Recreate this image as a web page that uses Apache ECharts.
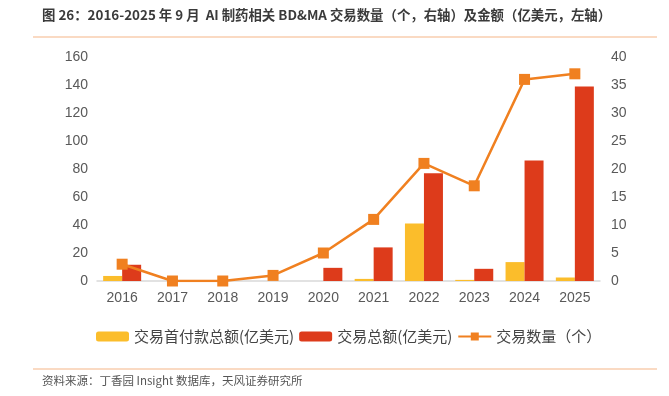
<!DOCTYPE html>
<html lang="zh">
  <head>
    <meta charset="UTF-8" />
    <title>AI 制药 BD&MA 交易</title>
    <script src="https://cdn.jsdelivr.net/npm/echarts@6/dist/echarts.min.js"></script>
    <style>
      body { margin: 0; background: #fff; }
    </style>
  </head>
  <body>
    <div id="main" style="width: 669px; height: 396px"></div>
    <script type="text/javascript">
      // data
      const years = ["2016", "2017", "2018", "2019", "2020", "2021", "2022", "2023", "2024", "2025"];
      const upfront = [3.6, 0, 0, 0, 0, 1.5, 41, 0.8, 13.5, 2.5];   // 亿美元, left axis
      const total = [11.6, 0, 0, 0, 9.4, 24, 77, 8.7, 86, 139];    // 亿美元, left axis
      const dealCount = [3, 0, 0, 1, 5, 11, 21, 17, 36, 37];        // 个, right axis

      const font = "'Noto Sans CJK SC', 'Noto Sans', sans-serif";
      const numFont = "'Liberation Sans', Arial, sans-serif";
      const labelColor = "#595959";

      let myChart = echarts.init(document.getElementById("main"));

      let options = {
        animation: false,
        textStyle: { fontFamily: font },
        graphic: [
          {
            type: "text",
            left: 42,
            top: 8,
            style: {
              text: "图 26：2016-2025 年 9 月  AI 制药相关 BD&MA 交易数量（个，右轴）及金额（亿美元，左轴）",
              font: "bold 13.4px " + font,
              fill: "#3a3a3a",
            },
          },
          {
            type: "line",
            shape: { x1: 33, y1: 37, x2: 657, y2: 37 },
            style: { stroke: "#f5b587", lineWidth: 1.2 },
          },
          {
            type: "line",
            shape: { x1: 33, y1: 369, x2: 657, y2: 369 },
            style: { stroke: "#f5b587", lineWidth: 1.2 },
          },
          {
            type: "text",
            left: 42,
            top: 375,
            style: {
              text: "资料来源：丁香园 Insight 数据库，天风证券研究所",
              font: "11.5px " + font,
              fill: "#555",
            },
          },
        ],
        grid: { left: 97, right: 69, top: 57, bottom: 115 },
        legend: {
          top: 324,
          left: 91,
          itemWidth: 33,
          itemHeight: 10,
          itemGap: 5,
          textStyle: { fontSize: 15, color: "#444", fontFamily: font },
          data: [
            { name: "交易首付款总额(亿美元)" },
            { name: "交易总额(亿美元)" },
            { name: "交易数量（个）" },
          ],
        },
        xAxis: {
          type: "category",
          data: years,
          axisTick: { show: false },
          axisLine: { lineStyle: { color: "#d9d9d9", width: 1.5 } },
          axisLabel: { color: labelColor, fontSize: 14, margin: 10, fontFamily: numFont },
        },
        yAxis: [
          {
            type: "value",
            min: 0,
            max: 160,
            interval: 20,
            splitLine: { show: false },
            axisLabel: { color: labelColor, fontSize: 14, margin: 9, fontFamily: numFont },
          },
          {
            type: "value",
            min: 0,
            max: 40,
            interval: 5,
            splitLine: { show: false },
            axisLabel: { color: labelColor, fontSize: 14, margin: 11, fontFamily: numFont },
          },
        ],
        series: [
          {
            name: "交易首付款总额(亿美元)",
            type: "bar",
            data: upfront,
            barWidth: 19,
            barGap: "0%",
            itemStyle: { color: "#fbbd2b" },
          },
          {
            name: "交易总额(亿美元)",
            type: "bar",
            data: total,
            barWidth: 19,
            itemStyle: { color: "#dd3b1b" },
          },
          {
            name: "交易数量（个）",
            type: "line",
            yAxisIndex: 1,
            data: dealCount,
            symbol: "rect",
            symbolSize: 11,
            lineStyle: { color: "#f08020", width: 2.5 },
            itemStyle: { color: "#f08020" },
          },
        ],
      };

      myChart.setOption(options);
    </script>
  </body>
</html>
